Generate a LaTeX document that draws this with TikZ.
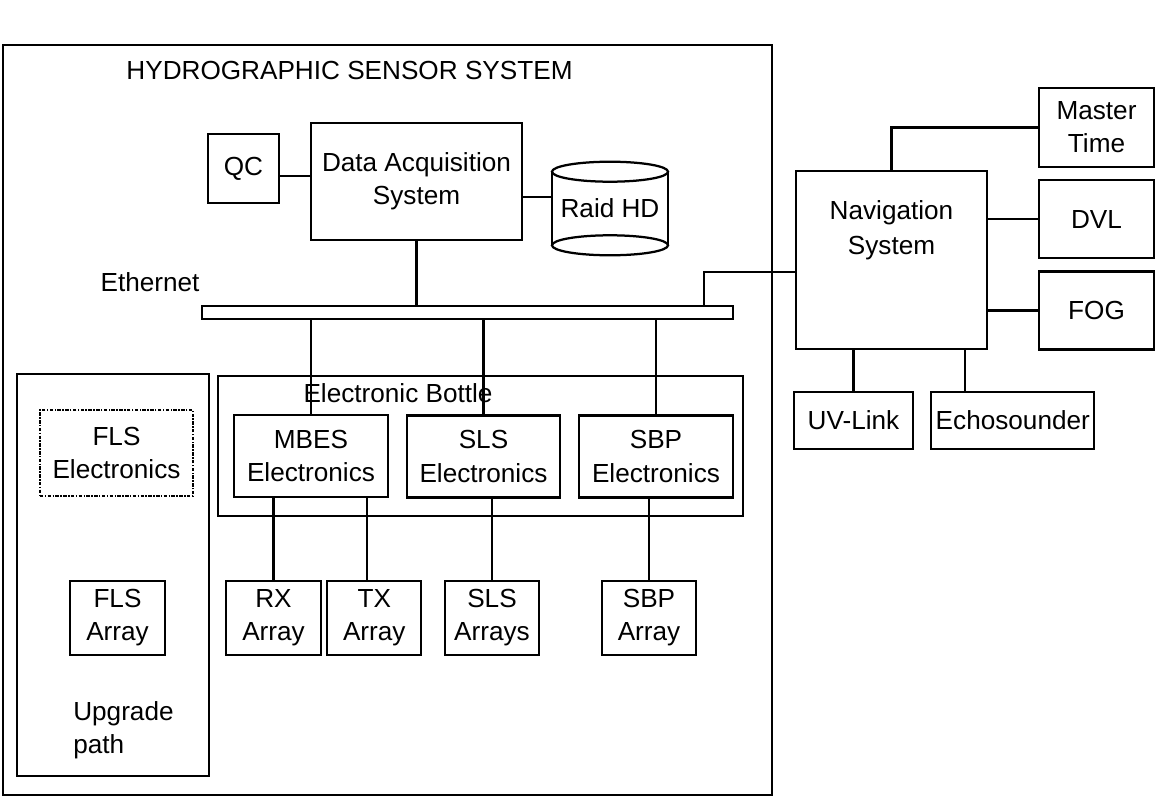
\documentclass[tikz,border=0pt]{standalone}
\usepackage{fontspec}
\setmainfont{Liberation Sans}
\usepackage{tikz}
\usetikzlibrary{positioning}

\begin{document}
\begin{tikzpicture}[
  x=0.025cm, y=-0.025cm,
  every node/.style={font=\fontsize{18.6}{23.5}\selectfont},
  box/.style={draw, line width=1.6pt, align=center, inner sep=0pt},
  spare/.style={draw, line width=0.9pt, dash pattern=on 2.5pt off 1pt on 1pt off 1pt, align=center, inner sep=0pt},
  link/.style={line width=1.5pt}
]
\useasboundingbox (0,0) rectangle (1165,809);
% hydrographic sensor system
\node[box, minimum width=19.225cm, minimum height=18.75cm] (hss) at (387.5,420) {};
\node (title) at (349.5,70) {HYDROGRAPHIC SENSOR SYSTEM};
\node[box, minimum width=1.775cm, minimum height=1.725cm] (qc) at (243.5,168.5) {QC};
\node[box, minimum width=5.275cm, minimum height=2.925cm] (das) at (416.5,181.5) {Data Acquisition\\System};
\node[minimum width=2.9cm, minimum height=1.825cm, inner sep=0pt] (raid) at (610,208.5) {Raid HD};
\draw[line width=1.6pt] (raid.north) ellipse [x radius=1.45cm, y radius=0.25cm];
\draw[line width=1.6pt] (raid.south) ellipse [x radius=1.45cm, y radius=0.25cm];
\draw[line width=1.6pt] (raid.north west) -- (raid.south west);
\draw[line width=1.6pt] (raid.north east) -- (raid.south east);
\node (ethlbl) at (150,282) {Ethernet};
\node[box, minimum width=13.275cm, minimum height=0.325cm] (eth) at (467.5,312.5) {};
% electronic bottle
\node[box, minimum width=13.125cm, minimum height=3.5cm] (bottle) at (480.5,446) {};
\node (bottlelbl) at (398,393) {Electronic Bottle};
\node[box, minimum width=3.85cm, minimum height=2.05cm] (mbes) at (311,456) {MBES\\Electronics};
\node[box, minimum width=3.825cm, minimum height=2.05cm] (slse) at (483.5,456.5) {SLS\\Electronics};
\node[box, minimum width=3.85cm, minimum height=2.05cm] (sbpe) at (656,456.5) {SBP\\Electronics};
\node[box, minimum width=2.375cm, minimum height=1.85cm] (rx) at (273.5,618) {RX\\Array};
\node[box, minimum width=2.35cm, minimum height=1.85cm, right=0.1cm of rx] (tx) {TX\\Array};
\node[box, minimum width=2.35cm, minimum height=1.85cm] (slsa) at (492,618) {SLS\\Arrays};
\node[box, minimum width=2.35cm, minimum height=1.85cm] (sbpa) at (649,618) {SBP\\Array};
% upgrade path
\node[box, minimum width=4.8cm, minimum height=10.05cm] (upg) at (113,575) {};
\node[spare, minimum width=3.825cm, minimum height=2.15cm] (flse) at (116.5,453) {FLS\\Electronics};
\node[box, minimum width=2.375cm, minimum height=1.85cm] (flsa) at (117.5,618) {FLS\\Array};
\node[anchor=west, align=left, inner sep=0pt] (upglbl) at (73,730) {Upgrade\\path};
% navigation
\node[box, minimum width=4.775cm, minimum height=4.45cm,
  label={[anchor=north, align=center, yshift=-0.65cm, font=\fontsize{18.6}{25}\selectfont]north:Navigation\\System}] (nav) at (891.5,260) {};
\node[box, minimum width=2.875cm, minimum height=1.975cm] (mt) at (1096.5,127.5) {Master\\Time};
\node[box, minimum width=2.875cm, minimum height=1.95cm, below=0.275cm of mt] (dvl) {DVL};
\node[box, minimum width=2.875cm, minimum height=1.95cm, below=0.275cm of dvl] (fog) {FOG};
\node[box, minimum width=2.975cm, minimum height=1.425cm] (uv) at (853.5,420.5) {UV-Link};
\node[box, minimum width=4.075cm, minimum height=1.425cm, right=0.4cm of uv] (echo) {Echosounder};
% connections
\draw[link] (qc.east) ++(0,7.5) coordinate (q1) -- (q1 -| das.west);
\draw[link] (das.east) ++(0,15.5) coordinate (d1) -- (d1 -| raid.west);
\draw[link] (das.south) -- (das.south |- eth.north);
\foreach \e in {mbes,slse,sbpe}
  \draw[link] (\e.north) -- (\e.north |- eth.south);
\draw[link] (rx.north) -- (rx.north |- mbes.south);
\draw[link] (tx.north) ++(-7,0) coordinate (t1) -- (t1 |- mbes.south);
\draw[link] (slsa.north) -- (slsa.north |- slse.south);
\draw[link] (sbpa.north) -- (sbpa.north |- sbpe.south);
\draw[link] (nav.west) ++(0,12) coordinate (n1) -| ([xshift=-0.75cm]eth.north east);
\draw[link] (nav.north) |- (mt.west);
\draw[link] (nav.east |- dvl.west) -- (dvl.west);
\draw[link] (nav.east |- fog.west) -- (fog.west);
\draw[link] (uv.north) -- (uv.north |- nav.south);
\draw[link] (echo.north) ++(-47.5,0) coordinate (e1) -- (e1 |- nav.south);
\end{tikzpicture}
\end{document}
